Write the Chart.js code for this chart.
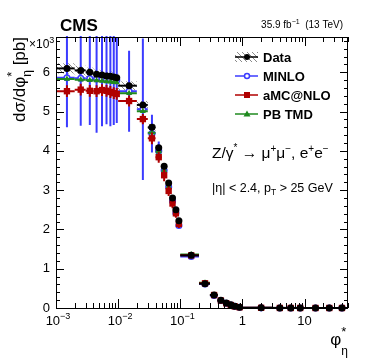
<!DOCTYPE html>
<html>
<head>
<meta charset="utf-8">
<script src="https://cdn.jsdelivr.net/npm/chart.js@4.4.1/dist/chart.umd.min.js"></script>
<style>
body { margin: 0; background: #fff; }
canvas { display: block; }
</style>
</head>
<body>
<canvas id="chart-phistar" width="374" height="363"></canvas>
<script>
'use strict';

// phi*_eta bins
var binLow = [0.001, 0.002, 0.003, 0.004, 0.005, 0.006, 0.007, 0.008, 0.009, 0.01, 0.02, 0.03, 0.04, 0.05, 0.06, 0.07, 0.08, 0.09, 0.1, 0.2, 0.3, 0.4, 0.5, 0.6, 0.7, 0.8, 1, 3, 5, 7, 10, 20, 30];
var binHigh = [0.002, 0.003, 0.004, 0.005, 0.006, 0.007, 0.008, 0.009, 0.01, 0.02, 0.03, 0.04, 0.05, 0.06, 0.07, 0.08, 0.09, 0.1, 0.2, 0.3, 0.4, 0.5, 0.6, 0.7, 0.8, 1, 3, 5, 7, 10, 20, 30, 50];
var binCenter = [0.0015, 0.0025, 0.0035, 0.0045, 0.0055, 0.0065, 0.0075, 0.0085, 0.0095, 0.015, 0.025, 0.035, 0.045, 0.055, 0.065, 0.075, 0.085, 0.095, 0.15, 0.25, 0.35, 0.45, 0.55, 0.65, 0.75, 0.9, 2, 4, 6, 8.5, 15, 25, 40];

// dsigma/dphi* in units of 10^3 pb
var dataValues = [6.10, 6.05, 6.00, 5.95, 5.93, 5.91, 5.90, 5.88, 5.86, 5.66, 5.17, 4.60, 4.08, 3.61, 3.18, 2.80, 2.50, 2.22, 1.34, 0.62, 0.33, 0.20, 0.13, 0.08, 0.045, 0.02, 0.004, 0.001, 0.0005, 0.0003, 0.0001, 0.00005, 0.00002];
var dataUnc = [0.13, 0.12, 0.12, 0.12, 0.12, 0.12, 0.12, 0.12, 0.12, 0.11, 0.10, 0.09, 0.08, 0.07, 0.06, 0.06, 0.05, 0.05, 0.03, 0.015, 0.008, 0.005, 0.004, 0.003, 0.002, 0.001, 0.0002, 0.0001, 0.0001, 0.0001, 0, 0, 0];
var minloValues = [5.86, 5.85, 5.84, 5.83, 5.83, 5.82, 5.82, 5.81, 5.80, 5.52, 5.06, 4.44, 4.00, 3.50, 3.08, 2.72, 2.42, 2.10, 1.31, 0.61, 0.32, 0.19, 0.12, 0.075, 0.042, 0.019, 0.004, 0.001, 0.0005, 0.0003, 0.0001, 0.00005, 0.00002];
var minloErr = [1.26, 1.21, 1.18, 1.37, 1.20, 1.14, 1.19, 1.15, 1.09, 1.03, 1.80, 0.48, 0.24, 0.12, 0.08, 0.06, 0.05, 0.05, 0.03, 0.02, 0.01, 0.01, 0.005, 0.005, 0.003, 0.002, 0.001, 0, 0, 0, 0, 0, 0];
var amcValues = [5.52, 5.56, 5.53, 5.52, 5.55, 5.53, 5.50, 5.47, 5.45, 5.27, 4.81, 4.32, 3.84, 3.38, 2.98, 2.66, 2.41, 2.14, 1.34, 0.63, 0.33, 0.19, 0.12, 0.075, 0.042, 0.019, 0.004, 0.001, 0.0005, 0.0003, 0.0001, 0.00005, 0.00002];
var amcErr = [0.15, 0.15, 0.15, 0.15, 0.15, 0.15, 0.15, 0.15, 0.15, 0.14, 0.13, 0.15, 0.14, 0.15, 0.13, 0.12, 0.11, 0.1, 0.04, 0.03, 0.02, 0.01, 0.01, 0.005, 0.003, 0.002, 0.001, 0, 0, 0, 0, 0, 0];
var pbtmdValues = [5.83, 5.81, 5.80, 5.79, 5.78, 5.77, 5.76, 5.75, 5.74, 5.47, 5.01, 4.46, 3.98, 3.50, 3.08, 2.72, 2.43, 2.15, 1.36, 0.64, 0.33, 0.19, 0.12, 0.075, 0.04, 0.018, 0.004, 0.001, 0.0005, 0.0003, 0.0001, 0.00005, 0.00002];
var pbtmdErr = [0.03, 0.03, 0.03, 0.03, 0.03, 0.03, 0.03, 0.03, 0.03, 0.03, 0.03, 0.03, 0.03, 0.03, 0.03, 0.02, 0.02, 0.02, 0.02, 0.01, 0.01, 0.005, 0.005, 0, 0, 0, 0, 0, 0, 0, 0, 0, 0];

// axis ticks
var xMajorTicks = [0.001, 0.01, 0.1, 1, 10];
var xTickBase = ['10', '10', '10', '1', '10'];
var xTickExp = ['\u22123', '\u22122', '\u22121', '', ''];
var yMajorTicks = [0, 1, 2, 3, 4, 5, 6];

var FONT = '"Liberation Sans", Arial, Helvetica, sans-serif';
var COL_DATA = '#000000';
var COL_MINLO = '#3b3bff';
var COL_AMC = '#b00000';
var COL_PB = '#1f8a1f';

function points(values) {
	return values.map(function (v, i) {
		return { x: binCenter[i], y: v };
	});
}

function font(size, bold) {
	return (bold ? 'bold ' : '') + size + 'px ' + FONT;
}

// draw text pieces with super/subscripts; p = {t, s, dy, b, adv}
function richText(ctx, x, y, parts, align) {
	var w = 0;
	parts.forEach(function (p) {
		ctx.font = font(p.s, p.b);
		p.w = ctx.measureText(p.t).width;
		if (p.adv !== false) w += p.w;
	});
	var cx = align === 'right' ? x - w : (align === 'center' ? x - w / 2 : x);
	ctx.textAlign = 'left';
	ctx.textBaseline = 'alphabetic';
	parts.forEach(function (p) {
		ctx.font = font(p.s, p.b);
		ctx.fillText(p.t, cx, y + (p.dy || 0));
		if (p.adv !== false) cx += p.w;
	});
}

var hatchPattern = null;
function getHatch(ctx) {
	if (hatchPattern) return hatchPattern;
	var c = document.createElement('canvas');
	c.width = 5; c.height = 5;
	var g = c.getContext('2d');
	g.strokeStyle = '#8a8a8a';
	g.lineWidth = 1;
	g.beginPath();
	g.moveTo(0, 0); g.lineTo(5, 5);
	g.moveTo(-1, 4); g.lineTo(1, 6);
	g.moveTo(4, -1); g.lineTo(6, 1);
	g.stroke();
	hatchPattern = ctx.createPattern(c, 'repeat');
	return hatchPattern;
}

var rootStyle = {
	id: 'rootStyle',
	beforeDatasetsDraw: function (chart) {
		var ctx = chart.ctx, xs = chart.scales.x, ys = chart.scales.y, a = chart.chartArea;
		ctx.save();
		ctx.beginPath();
		ctx.rect(a.left, a.top, a.right - a.left, a.bottom - a.top);
		ctx.clip();
		ctx.fillStyle = getHatch(ctx);
		for (var i = 0; i < binCenter.length; i++) {
			if (!dataUnc[i]) continue;
			var x0 = xs.getPixelForValue(binLow[i]), x1 = xs.getPixelForValue(binHigh[i]);
			var y0 = ys.getPixelForValue(dataValues[i] + dataUnc[i]), y1 = ys.getPixelForValue(dataValues[i] - dataUnc[i]);
			ctx.fillRect(x0, y0, x1 - x0, y1 - y0);
		}
		ctx.restore();
	},
	beforeDatasetDraw: function (chart, args) {
		var ds = chart.data.datasets[args.index];
		var ctx = chart.ctx, xs = chart.scales.x, ys = chart.scales.y, a = chart.chartArea;
		ctx.save();
		ctx.beginPath();
		ctx.rect(a.left, a.top - 1, a.right - a.left, a.bottom - a.top + 2);
		ctx.clip();
		ctx.strokeStyle = ds.borderColor;
		ctx.lineWidth = 2;
		ds.data.forEach(function (p, i) {
			var px = xs.getPixelForValue(p.x), py = ys.getPixelForValue(p.y);
			ctx.beginPath();
			ctx.moveTo(xs.getPixelForValue(binLow[i]), py);
			ctx.lineTo(xs.getPixelForValue(binHigh[i]), py);
			if (ds.errors && ds.errors[i]) {
				ctx.moveTo(px, ys.getPixelForValue(p.y + ds.errors[i]));
				ctx.lineTo(px, ys.getPixelForValue(p.y - ds.errors[i]));
			}
			ctx.stroke();
		});
		ctx.restore();
	},
	afterDraw: function (chart) {
		var ctx = chart.ctx, xs = chart.scales.x, ys = chart.scales.y, a = chart.chartArea;
		var i, k, px, py;
		ctx.save();
		ctx.strokeStyle = '#000';
		ctx.lineWidth = 1;
		// frame
		ctx.strokeRect(a.left + 0.5, a.top + 0.5, a.right - a.left - 1, a.bottom - a.top);
		// inward ticks, x
		ctx.beginPath();
		for (i = -3; i <= 1; i++) {
			for (k = 1; k <= 9; k++) {
				var v = k * Math.pow(10, i);
				if (v > 50) continue;
				px = Math.round(xs.getPixelForValue(v)) + 0.5;
				var len = k === 1 ? 9 : 5;
				ctx.moveTo(px, a.bottom); ctx.lineTo(px, a.bottom - len);
				ctx.moveTo(px, a.top); ctx.lineTo(px, a.top + len);
			}
		}
		// inward ticks, y
		for (i = 0; i <= 34; i++) {
			py = Math.round(ys.getPixelForValue(i * 0.2)) + 0.5;
			var l = i % 5 === 0 ? 8 : 4;
			ctx.moveTo(a.left, py); ctx.lineTo(a.left + l, py);
			ctx.moveTo(a.right, py); ctx.lineTo(a.right - l, py);
		}
		ctx.stroke();

		ctx.fillStyle = '#000';
		// x tick labels
		xMajorTicks.forEach(function (v, j) {
			var cx = xs.getPixelForValue(v);
			var parts = [{ t: xTickBase[j], s: 13 }];
			if (xTickExp[j]) parts.push({ t: xTickExp[j], s: 9, dy: -6 });
			richText(ctx, cx + (xTickExp[j] ? 2 : 0), a.bottom + 17, parts, 'center');
		});
		// y multiplier
		richText(ctx, 29, 48, [{ t: '\u00d710', s: 12 }, { t: '3', s: 9, dy: -5 }], 'left');

		// axis titles
		richText(ctx, 348, 345, [
			{ t: '\u03c6', s: 17 },
			{ t: '*', s: 13, dy: -9, adv: false },
			{ t: '\u03b7', s: 12, dy: 10 }
		], 'right');
		ctx.save();
		ctx.translate(25, 37);
		ctx.rotate(-Math.PI / 2);
		richText(ctx, 0, 0, [
			{ t: 'd\u03c3/d\u03c6', s: 17 },
			{ t: '*', s: 13, dy: -9, adv: false },
			{ t: '\u03b7', s: 12, dy: 6 },
			{ t: ' [pb]', s: 17 }
		], 'right');
		ctx.restore();

		// header
		richText(ctx, 60, 31, [{ t: 'CMS', s: 17, b: true }], 'left');
		richText(ctx, 343, 28, [
			{ t: '35.9 fb', s: 10 },
			{ t: '\u22121', s: 7, dy: -4 },
			{ t: '  (13 TeV)', s: 10 }
		], 'right');

		// process text
		richText(ctx, 212, 158, [
			{ t: 'Z/\u03b3', s: 15.5 },
			{ t: '*', s: 10, dy: -7 },
			{ t: ' \u2192 \u03bc', s: 15.5 },
			{ t: '+', s: 10, dy: -6 },
			{ t: '\u03bc', s: 15.5 },
			{ t: '\u2212', s: 10, dy: -6 },
			{ t: ', e', s: 15.5 },
			{ t: '+', s: 10, dy: -6 },
			{ t: 'e', s: 15.5 },
			{ t: '\u2212', s: 10, dy: -6 }
		], 'left');
		richText(ctx, 212, 192, [
			{ t: '|\u03b7| < 2.4, p', s: 12.5 },
			{ t: 'T', s: 8.5, dy: 3 },
			{ t: ' > 25 GeV', s: 12.5 }
		], 'left');

		// legend
		var lx0 = 235, lx1 = 258, mx = 247;
		var rows = [57, 76, 95, 114];
		ctx.fillStyle = getHatch(ctx);
		ctx.fillRect(lx0, rows[0] - 5, lx1 - lx0, 10);
		var entries = [
			{ c: COL_DATA, label: 'Data', m: 'dot' },
			{ c: COL_MINLO, label: 'MINLO', m: 'open' },
			{ c: COL_AMC, label: 'aMC@NLO', m: 'square' },
			{ c: COL_PB, label: 'PB TMD', m: 'tri' }
		];
		entries.forEach(function (e, j) {
			var y = rows[j];
			ctx.strokeStyle = e.c;
			ctx.fillStyle = e.c;
			ctx.lineWidth = 1.5;
			ctx.beginPath();
			ctx.moveTo(lx0, y); ctx.lineTo(lx1, y);
			ctx.stroke();
			ctx.beginPath();
			if (e.m === 'dot') {
				ctx.arc(mx, y, 3, 0, Math.PI * 2); ctx.fill();
			} else if (e.m === 'open') {
				ctx.fillStyle = '#fff';
				ctx.arc(mx, y, 2.5, 0, Math.PI * 2); ctx.fill(); ctx.stroke();
			} else if (e.m === 'square') {
				ctx.fillRect(mx - 3, y - 3, 6, 6);
			} else {
				ctx.moveTo(mx, y - 3.5); ctx.lineTo(mx + 3.5, y + 2.5); ctx.lineTo(mx - 3.5, y + 2.5);
				ctx.closePath(); ctx.fill();
			}
			ctx.fillStyle = '#000';
			richText(ctx, 263, y + 5, [{ t: e.label, s: 13, b: true }], 'left');
		});
		ctx.restore();
	}
};

var PhiStarChart = (function () {
	var $canvas = document.getElementById('chart-phistar');

	function init(canvas) {
		var chart = new Chart(canvas, {
			type: 'scatter',
			data: {
				datasets: [{
					label: 'Data',
					data: points(dataValues),
					borderColor: COL_DATA,
					backgroundColor: COL_DATA,
					pointStyle: 'circle',
					pointRadius: 3.5,
					pointBorderWidth: 0,
					clip: false
				}, {
					label: 'aMC@NLO',
					data: points(amcValues),
					errors: amcErr,
					borderColor: COL_AMC,
					backgroundColor: COL_AMC,
					pointStyle: 'rect',
					pointRadius: 4.5,
					pointBorderWidth: 0,
					clip: false
				}, {
					label: 'PB TMD',
					data: points(pbtmdValues),
					errors: pbtmdErr,
					borderColor: COL_PB,
					backgroundColor: COL_PB,
					pointStyle: 'triangle',
					pointRadius: 3.5,
					pointBorderWidth: 0,
					clip: false
				}, {
					label: 'MINLO',
					data: points(minloValues),
					errors: minloErr,
					borderColor: COL_MINLO,
					backgroundColor: '#ffffff',
					pointStyle: 'circle',
					pointRadius: 2.8,
					pointBorderWidth: 1.5,
					clip: false
				}]
			},
			options: {
				responsive: false,
				animation: false,
				devicePixelRatio: 1,
				layout: { padding: { top: 37, right: 26, left: 0, bottom: 0 } },
				plugins: {
					legend: { display: false },
					tooltip: { enabled: false }
				},
				scales: {
					x: {
						type: 'logarithmic',
						min: 0.001,
						max: 50,
						grid: { display: false, drawTicks: false },
						border: { display: false },
						ticks: { display: false },
						afterFit: function (s) { s.height = 55; }
					},
					y: {
						min: 0,
						max: 6.9,
						grid: { display: false, drawTicks: false },
						border: { display: false },
						ticks: {
							stepSize: 1,
							includeBounds: false,
							padding: 6,
							color: '#000',
							font: { family: FONT, size: 13 },
							callback: function (v) {
								return yMajorTicks.indexOf(v) >= 0 ? String(v) : '';
							}
						},
						afterFit: function (s) { s.width = 56; }
					}
				}
			},
			plugins: [rootStyle]
		});
		return chart;
	}

	if ($canvas) {
		init($canvas);
	}
})();
</script>
</body>
</html>
